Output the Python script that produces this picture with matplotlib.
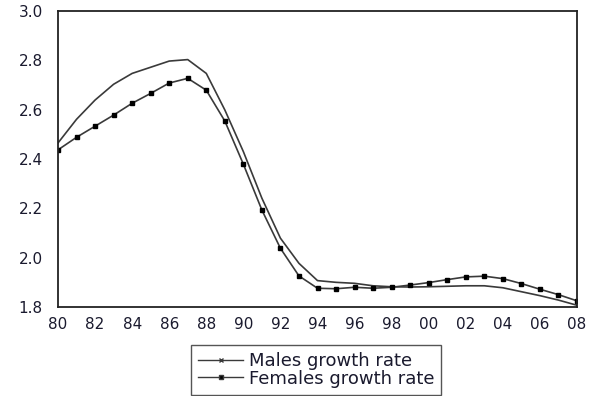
import matplotlib.pyplot as plt
from matplotlib.lines import Line2D

# Years 1980..2008
years = list(range(1980, 2009))
year_labels = ['80', '82', '84', '86', '88', '90', '92', '94', '96', '98',
               '00', '02', '04', '06', '08']

males = [2.465, 2.561, 2.639, 2.703, 2.747, 2.772, 2.797, 2.803, 2.747, 2.599,
         2.430, 2.241, 2.079, 1.977, 1.907, 1.900, 1.896, 1.886, 1.882, 1.881,
         1.882, 1.884, 1.886, 1.886, 1.878, 1.862, 1.846, 1.828, 1.807]

females = [2.437, 2.488, 2.533, 2.578, 2.626, 2.666, 2.708, 2.727, 2.679, 2.554,
           2.379, 2.193, 2.038, 1.926, 1.876, 1.874, 1.880, 1.876, 1.880, 1.889,
           1.899, 1.911, 1.922, 1.925, 1.915, 1.895, 1.872, 1.850, 1.825]

FONT = 'DejaVu Sans'
TICK_FONT_SIZE = 11
LINE_COLOR = '#3a3a3a'
TEXT_COLOR = '#1a1a2e'

fig = plt.figure(figsize=(5.98, 3.96), dpi=100)
ax = fig.add_axes([58 / 598, 1 - 307 / 396, (577 - 58) / 598, (307 - 11) / 396])

ax.plot(years, males, color=LINE_COLOR, linewidth=1.2)
ax.plot(years, females, color=LINE_COLOR, linewidth=1.2, marker='s', markersize=3,
        markerfacecolor='black', markeredgecolor='black')

ax.set_xlim(1980, 2008)
ax.set_ylim(1.8, 3.0)
ax.set_xticks(range(1980, 2009, 2))
ax.set_xticklabels(year_labels)
ax.set_yticks([1.8, 2.0, 2.2, 2.4, 2.6, 2.8, 3.0])
ax.set_yticklabels(['1.8', '2.0', '2.2', '2.4', '2.6', '2.8', '3.0'])

ax.tick_params(axis='both', length=0, labelsize=TICK_FONT_SIZE, colors=TEXT_COLOR)
ax.tick_params(axis='y', pad=11)
ax.tick_params(axis='x', pad=7)
for lbl in ax.get_xticklabels() + ax.get_yticklabels():
    lbl.set_fontfamily(FONT)

for side in ['top', 'bottom', 'left', 'right']:
    ax.spines[side].set_linewidth(1.3)
    ax.spines[side].set_color('#222222')

# Custom legend below the plot
handles = [
    Line2D([0], [0], color=LINE_COLOR, linewidth=1.0, marker='x', markersize=2.5, label='Males growth rate'),
    Line2D([0], [0], color=LINE_COLOR, linewidth=1.0, marker='s', markersize=3,
           markerfacecolor='black', label='Females growth rate'),
]
leg = fig.legend(handles=handles, loc='center', bbox_to_anchor=(316 / 598, 1 - 370 / 396),
                 ncol=1, fancybox=False, framealpha=1, edgecolor='#555555',
                 prop={'family': FONT, 'size': 13}, handlelength=2.5,
                 handletextpad=0.3, labelspacing=-0.05, borderpad=0.4,
                 borderaxespad=0)
for t in leg.get_texts():
    t.set_color(TEXT_COLOR)

fig.savefig('out.png', dpi=100)
